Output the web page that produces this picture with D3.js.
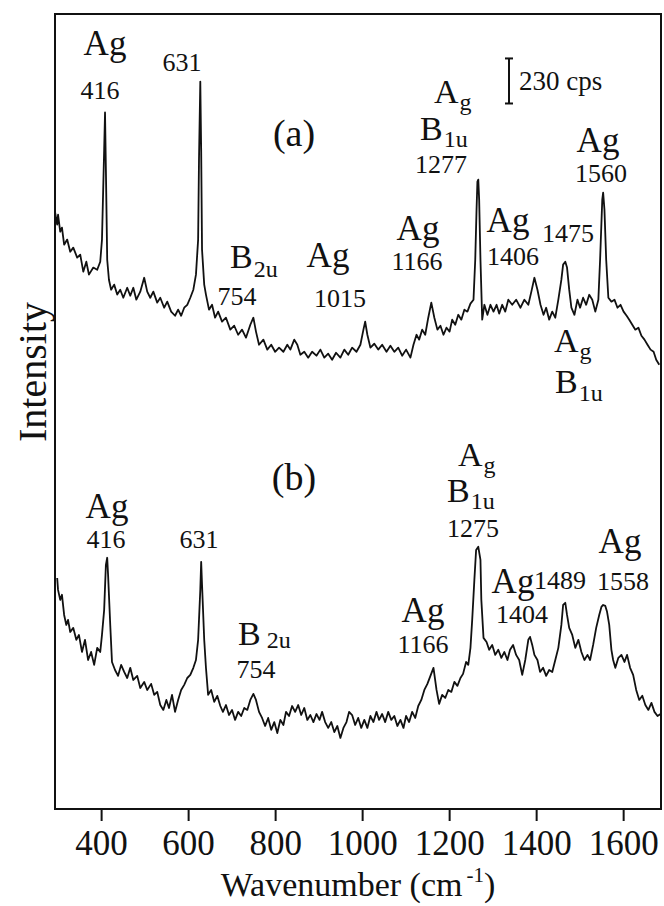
<!DOCTYPE html>
<html>
<head>
<meta charset="utf-8">
<script src="https://cdn.jsdelivr.net/npm/d3@7"></script>
<style>
  body { margin: 0; background: #fff; }
  text { font-family: "Liberation Serif", "Times New Roman", serif; fill: #111; }
</style>
</head>
<body>
<div class="chart"></div>
<script>
// spectrum (a), wavenumber (cm-1) and intensity (cps, with vertical offset)
const waveA = [294,299,301,306,310,315,322,329,336,345,352,359,366,372,382,391,398,402,407,409,411,414,418,423,430,437,444,451,460,467,474,481,490,499,506,513,520,529,536,545,552,561,570,577,584,591,598,605,612,618,623,625,628,630,632,637,641,648,655,662,669,678,687,697,706,715,724,733,743,750,756,763,773,782,791,800,809,819,828,835,844,851,858,867,876,885,895,904,913,922,931,940,950,959,968,977,987,996,1003,1007,1012,1019,1028,1037,1046,1056,1065,1074,1083,1092,1101,1111,1118,1125,1131,1138,1145,1152,1159,1166,1173,1180,1187,1194,1201,1207,1214,1221,1228,1235,1242,1249,1256,1260,1263,1265,1267,1269,1272,1276,1281,1288,1295,1302,1309,1315,1322,1329,1336,1345,1354,1364,1373,1382,1389,1396,1403,1410,1417,1423,1430,1437,1444,1451,1458,1462,1467,1471,1476,1481,1488,1495,1501,1508,1515,1522,1529,1536,1543,1547,1552,1554,1557,1561,1566,1573,1580,1587,1594,1601,1608,1614,1621,1628,1635,1642,1649,1656,1663,1670,1676,1683];
const intA = [3050,2984,3035,2948,2969,2882,2908,2846,2867,2816,2831,2744,2795,2729,2765,2754,2795,2908,3367,3557,3265,2805,2703,2652,2678,2627,2652,2611,2662,2621,2662,2601,2642,2713,2642,2611,2642,2586,2611,2560,2591,2540,2519,2550,2519,2560,2575,2611,2652,2729,2908,3316,3715,3367,2856,2678,2627,2550,2575,2509,2540,2489,2509,2448,2468,2422,2448,2407,2473,2509,2438,2371,2397,2346,2371,2335,2356,2335,2371,2346,2397,2371,2320,2335,2305,2335,2315,2346,2305,2325,2294,2330,2305,2346,2320,2356,2335,2371,2448,2489,2422,2356,2376,2346,2371,2335,2366,2335,2356,2315,2346,2305,2371,2422,2397,2448,2422,2509,2586,2509,2448,2468,2422,2458,2438,2499,2473,2524,2499,2550,2540,2581,2601,2805,3061,3204,3214,3112,2805,2499,2575,2524,2575,2540,2575,2530,2575,2540,2601,2575,2601,2560,2601,2575,2642,2713,2652,2575,2524,2560,2499,2540,2509,2601,2703,2780,2795,2765,2652,2560,2524,2601,2560,2611,2575,2626,2601,2540,2601,2805,3112,3148,3061,2805,2611,2591,2601,2560,2575,2540,2519,2499,2473,2448,2458,2417,2397,2371,2346,2335,2294,2269];

// spectrum (b)
const waveB = [299,301,306,310,315,320,324,329,336,343,349,356,363,370,377,384,391,398,402,407,411,414,416,421,425,432,439,446,453,460,467,474,483,490,499,506,515,522,529,536,543,550,556,563,570,577,584,591,598,605,612,618,623,628,630,632,637,641,646,653,660,667,674,680,687,694,701,708,715,722,729,736,743,750,756,763,770,777,784,791,798,805,812,819,825,832,839,846,853,860,867,874,881,888,895,902,908,915,922,929,936,943,950,957,964,970,977,984,991,998,1005,1012,1019,1026,1033,1039,1046,1053,1060,1067,1074,1081,1088,1095,1101,1108,1115,1122,1129,1136,1143,1150,1157,1164,1171,1177,1184,1191,1198,1205,1212,1219,1226,1232,1239,1244,1249,1253,1258,1262,1267,1272,1274,1279,1286,1292,1299,1306,1313,1320,1327,1334,1340,1347,1354,1361,1368,1375,1382,1386,1391,1396,1403,1409,1416,1423,1430,1437,1444,1451,1458,1462,1467,1471,1476,1483,1490,1497,1504,1511,1518,1524,1531,1538,1545,1550,1554,1559,1563,1568,1573,1577,1582,1589,1596,1603,1609,1616,1623,1630,1637,1644,1651,1658,1665,1672,1679,1686];
const intB = [1180,1119,1068,1094,991,940,966,904,925,864,889,802,864,761,802,736,823,802,889,1017,1247,1283,1196,940,751,710,680,736,700,669,721,659,680,618,649,608,639,583,598,531,506,557,516,583,496,557,608,634,669,685,721,761,864,1119,1262,1145,864,721,583,608,547,578,526,496,531,480,506,455,496,475,516,506,557,588,557,496,465,424,465,404,444,388,455,429,496,475,526,496,531,480,516,455,480,444,485,455,496,444,414,444,393,424,363,414,444,496,480,429,465,414,455,414,475,444,496,455,485,444,496,455,475,424,455,414,475,444,496,465,526,557,608,639,680,721,608,537,583,567,608,598,649,629,669,690,751,736,823,966,1170,1323,1339,1272,1068,874,853,813,838,787,813,772,802,761,813,838,787,761,685,761,864,879,838,787,761,700,721,680,710,700,761,823,940,1042,1053,991,925,889,823,864,802,761,787,761,838,925,991,1032,1042,1037,1007,940,813,761,721,772,787,751,787,721,685,608,557,578,531,506,542,496,475,485];

const xTicks = [400, 600, 800, 1000, 1200, 1400, 1600];
const scaleBarCps = 230;

const W = 664, H = 906;
const margin = {top: 14, right: 3, bottom: 97, left: 55};

const svg = d3.select('.chart')
  .append('svg')
    .attr('width', W)
    .attr('height', H);

const x = d3.scaleLinear()
  .domain([294, 1687])
  .range([margin.left, W - margin.right]);

const y = d3.scaleLinear()
  .domain([0, 4060])
  .range([H - margin.bottom, margin.top]);

// frame
svg.append('rect')
  .attr('x', margin.left)
  .attr('y', margin.top)
  .attr('width', W - margin.right - margin.left)
  .attr('height', H - margin.bottom - margin.top)
  .attr('fill', 'none')
  .attr('stroke', '#111')
  .attr('stroke-width', 2);

// x axis
const xAxis = d3.axisBottom(x)
  .tickValues(xTicks)
  .tickFormat(d3.format('d'))
  .tickSize(12)
  .tickPadding(9)
  .tickSizeOuter(0);

const xAxisGroup = svg.append('g')
  .attr('transform', `translate(0, ${H - margin.bottom})`)
  .call(xAxis);
xAxisGroup.select('.domain').remove();
xAxisGroup.selectAll('line').attr('stroke', '#111').attr('stroke-width', 2);
xAxisGroup.selectAll('text')
  .attr('font-size', 35)
  .attr('fill', '#111');

// axis titles
const xt = svg.append('text')
  .attr('x', 358)
  .attr('y', 896)
  .attr('text-anchor', 'middle')
  .attr('font-size', 34);
xt.append('tspan').text('Wavenumber (cm');
xt.append('tspan').attr('font-size', 21).attr('dy', -14).attr('dx', 4).text('-1');
xt.append('tspan').attr('dy', 14).text(')');

svg.append('text')
  .attr('transform', 'translate(46, 372) rotate(-90)')
  .attr('text-anchor', 'middle')
  .attr('font-size', 40)
  .text('Intensity');

// spectra
const line = d3.line()
  .x(d => x(d[0]))
  .y(d => y(d[1]));

[[waveA, intA], [waveB, intB]].forEach(([w, v]) => {
  svg.append('path')
    .datum(w.map((d, i) => [d, v[i]]))
    .attr('d', line)
    .attr('fill', 'none')
    .attr('stroke', '#111')
    .attr('stroke-width', 1.8)
    .attr('stroke-linejoin', 'round');
});

// scale bar
const barBase = 3603, barX = 509;
svg.append('line')
  .attr('x1', barX).attr('x2', barX)
  .attr('y1', y(barBase)).attr('y2', y(barBase + scaleBarCps))
  .attr('stroke', '#111').attr('stroke-width', 2);
[barBase, barBase + scaleBarCps].forEach(v => {
  svg.append('line')
    .attr('x1', barX - 4).attr('x2', barX + 4)
    .attr('y1', y(v)).attr('y2', y(v))
    .attr('stroke', '#111').attr('stroke-width', 2);
});
svg.append('text')
  .attr('x', 519).attr('y', 90)
  .attr('font-size', 27)
  .text(scaleBarCps + ' cps');

// labels: [x, baseline, main, sub, size, anchor, subDy, subDx]
const labels = [
  [105, 55, 'Ag', '', 35, 'middle'],
  [100, 99, '416', '', 26, 'middle'],
  [182, 71, '631', '', 26, 'middle'],
  [294, 146, '(a)', '', 38, 'middle'],
  [230, 268, 'B', '2u', 34, 'start', 9, 1],
  [237, 305, '754', '', 26, 'middle'],
  [328, 267, 'Ag', '', 35, 'middle'],
  [340, 307, '1015', '', 26, 'middle'],
  [434, 103, 'A', 'g', 34, 'start', 7, 1],
  [420, 140, 'B', '1u', 34, 'start', 7, 1],
  [441, 173, '1277', '', 26, 'middle'],
  [418, 240, 'Ag', '', 35, 'middle'],
  [417, 270, '1166', '', 26, 'middle'],
  [508, 232, 'Ag', '', 35, 'middle'],
  [513, 265, '1406', '', 26, 'middle'],
  [568, 242, '1475', '', 26, 'middle'],
  [598, 152, 'Ag', '', 35, 'middle'],
  [601, 182, '1560', '', 26, 'middle'],
  [554, 352, 'A', 'g', 34, 'start', 7, 1],
  [555, 393, 'B', '1u', 34, 'start', 8, 1],

  [294, 490, '(b)', '', 38, 'middle'],
  [107, 518, 'Ag', '', 35, 'middle'],
  [106, 548, '416', '', 26, 'middle'],
  [199, 548, '631', '', 26, 'middle'],
  [238, 645, 'B', '2u', 34, 'start', 3, 6],
  [256, 678, '754', '', 26, 'middle'],
  [458, 466, 'A', 'g', 34, 'start', 7, 1],
  [447, 502, 'B', '1u', 34, 'start', 7, 1],
  [473, 537, '1275', '', 26, 'middle'],
  [423, 622, 'Ag', '', 35, 'middle'],
  [423, 653, '1166', '', 26, 'middle'],
  [513, 593, 'Ag', '', 35, 'middle'],
  [560, 589, '1489', '', 26, 'middle'],
  [522, 623, '1404', '', 26, 'middle'],
  [620, 553, 'Ag', '', 35, 'middle'],
  [623, 590, '1558', '', 26, 'middle']
];

labels.forEach(([lx, ly, main, sub, size, anchor, subDy, subDx]) => {
  const t = svg.append('text')
    .attr('x', lx).attr('y', ly)
    .attr('font-size', size)
    .attr('text-anchor', anchor);
  t.append('tspan').text(main);
  if (sub) {
    t.append('tspan')
      .attr('font-size', 24)
      .attr('dx', subDx)
      .attr('dy', subDy)
      .text(sub);
  }
});
</script>
</body>
</html>
